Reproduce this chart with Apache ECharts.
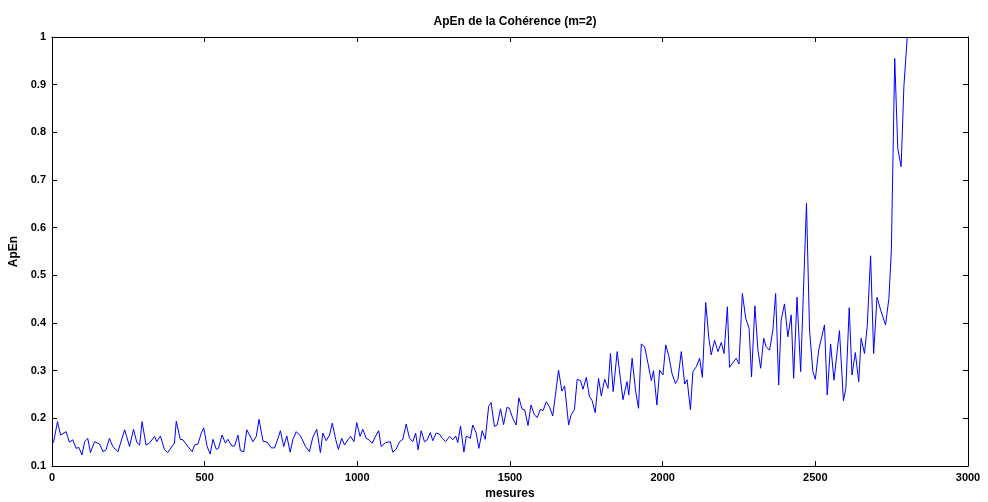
<!DOCTYPE html>
<html>
<head>
<meta charset="utf-8">
<script src="https://cdn.jsdelivr.net/npm/echarts@6/dist/echarts.min.js"></script>
<style>html,body{margin:0;padding:0;background:#fff}#c{width:988px;height:502px}</style>
</head>
<body>
<div id="c"></div>
<script>
const titleText = "ApEn de la Cohérence (m=2)";
const xName = "mesures";
const yName = "ApEn";
const xTicks = [0, 500, 1000, 1500, 2000, 2500, 3000];
const yTicks = [0.1, 0.2, 0.3, 0.4, 0.5, 0.6, 0.7, 0.8, 0.9, 1];
const xs = [5,18,28,46,57,68,79,88,98,107,117,126,139,156,167,177,188,199,216,238,254,267,278,287,295,308,319,336,343,355,368,379,394,401,407,420,429,445,459,467,478,
489,497,508,518,527,538,545,557,568,576,589,598,609,617,628,638,647,658,669,678,691,705,718,729,740,748,759,769,780,789,800,814,830,843,854,867,879,887,898,909,918,929,938,949,958,
969,978,989,998,1009,1018,1029,1038,1049,1060,1070,1078,1092,1108,1116,1127,1138,1149,1160,1171,1182,1191,1199,1209,1220,1229,1239,1247,1258,1269,1278,1289,1302,1313,1322,1329,1338,1349,1357,1370,1378,1389,1398,1409,1419,
1430,1438,1449,1458,1469,1479,1490,1498,1509,1520,1529,1540,1548,1559,1569,1580,1589,1600,1608,1619,1630,1640,1659,1670,1679,1692,1700,1711,1720,1731,1739,1750,1760,1769,1779,1790,1799,1810,1821,1829,1838,1851,1862,1870,1883,1889,
1900,1911,1921,1930,1941,1952,1963,1970,1981,1990,2001,2010,2020,2031,2042,2050,2061,2072,2080,2091,2099,2110,2121,2130,2141,2151,2159,2170,2181,2192,2201,2212,2219,2230,2241,2250,2261,2272,2283,2291,2302,2312,2321,2331,2339,2350,2361,2370,
2380,2388,2399,2410,2421,2429,2440,2452,2471,2481,2492,2500,2511,2530,2539,2550,2561,2579,2592,2600,2611,2620,2631,2642,2650,2661,2670,2681,2691,2702,2714,2730,2741,2749,2760,2770,2781,2790,2801];
const apen = [0.149,0.193,0.165,0.172,0.150,0.155,0.137,0.139,0.123,0.151,0.158,0.128,0.151,0.146,0.130,0.134,0.158,0.141,0.130,0.176,0.141,0.177,0.149,0.144,0.193,0.144,0.148,0.162,0.151,0.163,0.135,0.128,0.142,0.148,0.194,0.156,0.155,0.141,0.130,0.144,0.146,
0.169,0.180,0.141,0.125,0.156,0.135,0.137,0.165,0.148,0.156,0.142,0.142,0.165,0.132,0.130,0.176,0.165,0.151,0.162,0.198,0.152,0.150,0.138,0.138,0.158,0.174,0.141,0.163,0.129,0.156,0.172,0.163,0.141,0.130,0.160,0.177,0.128,0.169,0.153,0.165,0.190,0.156,0.135,0.158,0.144,
0.155,0.162,0.151,0.191,0.162,0.177,0.158,0.155,0.148,0.163,0.174,0.141,0.149,0.151,0.129,0.135,0.151,0.156,0.188,0.158,0.151,0.169,0.134,0.174,0.151,0.155,0.170,0.153,0.169,0.167,0.158,0.151,0.162,0.155,0.163,0.149,0.184,0.129,0.163,0.158,0.186,0.170,0.137,0.174,0.156,
0.225,0.233,0.183,0.186,0.220,0.187,0.223,0.221,0.200,0.186,0.243,0.219,0.218,0.185,0.228,0.207,0.202,0.219,0.216,0.235,0.223,0.205,0.301,0.257,0.268,0.186,0.207,0.218,0.282,0.279,0.261,0.286,0.246,0.237,0.212,0.284,0.247,0.282,0.263,0.336,0.256,0.340,0.281,0.239,0.277,0.249,
0.326,0.259,0.221,0.356,0.350,0.315,0.279,0.300,0.228,0.301,0.291,0.354,0.331,0.293,0.273,0.282,0.340,0.272,0.281,0.218,0.298,0.308,0.326,0.286,0.443,0.370,0.333,0.364,0.340,0.359,0.336,0.434,0.307,0.317,0.326,0.314,0.462,0.410,0.389,0.287,0.436,0.343,0.305,0.368,0.350,0.343,0.385,0.462,
0.270,0.406,0.440,0.371,0.417,0.284,0.454,0.298,0.651,0.385,0.298,0.282,0.343,0.396,0.249,0.356,0.280,0.384,0.237,0.263,0.432,0.291,0.338,0.277,0.368,0.336,0.394,0.541,0.336,0.454,0.427,0.396,0.452,0.553,0.955,0.766,0.728,0.896,1.0];

const data = xs.map((x, i) => [x, apen[i]]);
const font = 'Liberation Sans, Arial, sans-serif';
const lblStyle = {color: '#000', fontFamily: font, fontWeight: 'bold', fontSize: 11};
const fmtY = v => String(+(+v).toFixed(1));
const fmtX = v => String(Math.round(v));
const baseX = {type: 'value', min: xTicks[0], max: xTicks[xTicks.length - 1], interval: 500,
  splitLine: {show: false}, axisLine: {show: true, onZero: false, lineStyle: {color: '#000', width: 1}},
  axisTick: {show: true, inside: true, length: 5, lineStyle: {color: '#000'}}};
const baseY = {type: 'value', min: yTicks[0], max: yTicks[yTicks.length - 1], interval: 0.1,
  splitLine: {show: false}, axisLine: {show: true, onZero: false, lineStyle: {color: '#000', width: 1}},
  axisTick: {show: true, inside: true, length: 5, lineStyle: {color: '#000'}}};

const chart = echarts.init(document.getElementById('c'), null, {renderer: 'canvas'});
chart.setOption({
  animation: false,
  backgroundColor: '#fff',
  title: {text: titleText, left: 510, textAlign: 'center', top: 11,
    textStyle: {fontFamily: font, fontWeight: 'bold', fontSize: 12, color: '#000'}},
  grid: {left: 52, right: 20, top: 37, bottom: 36, containLabel: false, outerBoundsMode: 'none'},
  xAxis: [
    Object.assign({}, baseX, {position: 'bottom', name: xName, nameLocation: 'middle', nameGap: 21,
      nameTextStyle: {fontFamily: font, fontWeight: 'bold', fontSize: 12, color: '#000'},
      axisLabel: Object.assign({margin: 6, formatter: fmtX}, lblStyle)}),
    Object.assign({}, baseX, {position: 'top', axisLabel: {show: false}})
  ],
  yAxis: [
    Object.assign({}, baseY, {position: 'left', name: yName, nameLocation: 'middle', nameGap: 21,
      nameTextStyle: {fontFamily: font, fontWeight: 'bold', fontSize: 12, color: '#000'},
      axisLabel: Object.assign({margin: 6, formatter: fmtY}, lblStyle)}),
    Object.assign({}, baseY, {position: 'right', axisLabel: {show: false}})
  ],
  series: [{type: 'line', data: data, xAxisIndex: 0, yAxisIndex: 0, showSymbol: false, symbol: 'none',
    clip: true, lineStyle: {color: '#0000ff', width: 1}, itemStyle: {color: '#0000ff'}}]
});
</script>
</body>
</html>
